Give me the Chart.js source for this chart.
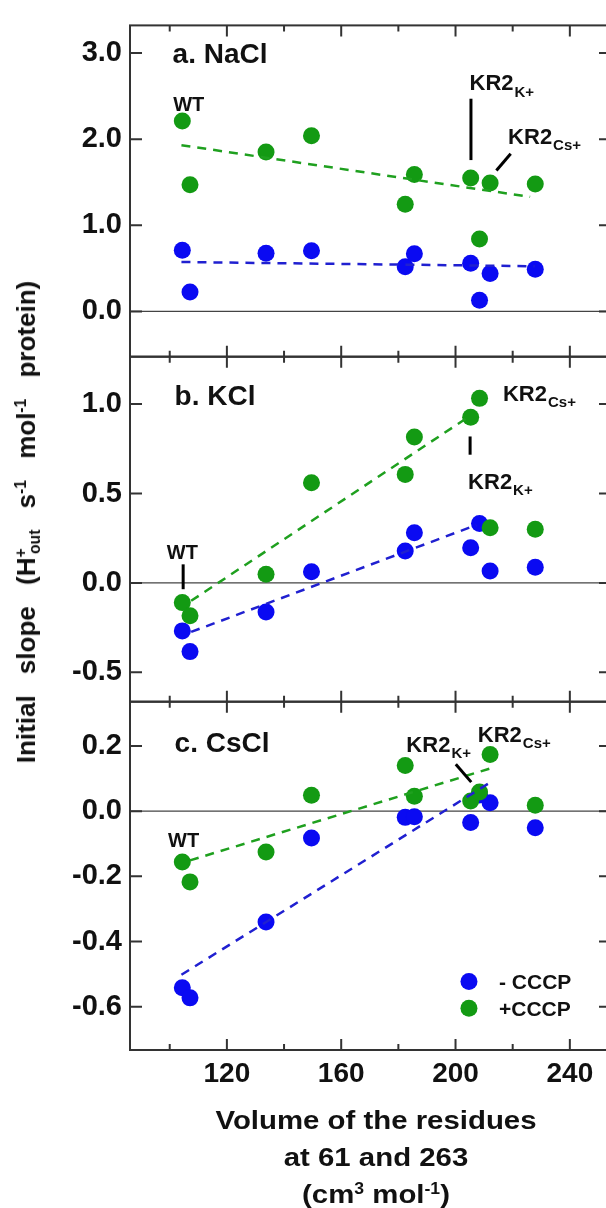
<!DOCTYPE html>
<html><head><meta charset="utf-8">
<script src="https://cdn.jsdelivr.net/npm/chart.js@4.4.1/dist/chart.umd.min.js"></script>
<style>
html,body{margin:0;padding:0;background:#fff;overflow:hidden}
#wrap{position:relative;width:606px;height:1208px;overflow:hidden;background:#fff;font-family:"Liberation Sans",Arial,sans-serif;font-weight:bold;color:#111}
canvas{position:absolute;left:0;top:0;width:620px;height:1208px}
#ytitle{position:absolute;left:28px;top:522px;transform:translate(-50%,-50%) rotate(-90deg);white-space:nowrap;font-size:26px;word-spacing:14px;line-height:30px}
#xtitle{position:absolute;left:376px;top:1102px;transform:translateX(-50%) scaleX(1.13);text-align:center;font-size:26px;line-height:37px;white-space:nowrap}
.sp{font-size:0.6em;position:relative;top:-0.6em}
.sb{font-size:0.6em;position:relative;top:0.35em}
</style></head>
<body>
<div id="wrap">
<canvas id="ca" width="620" height="1208"></canvas>
<canvas id="cb" width="620" height="1208"></canvas>
<canvas id="cc" width="620" height="1208"></canvas>
<div id="ytitle">Initial slope (H<span class="sp">+</span><span class="sb" style="margin-left:-0.35em">out</span> s<span class="sp">-1</span> mol<span class="sp">-1</span> protein)</div>
<div id="xtitle">Volume of the residues<br>at 61 and 263<br>(cm<span class="sp">3</span> mol<span class="sp">-1</span>)</div>
</div>
<script>
// ---- data ----
const volumes = [104.4, 107.1, 133.7, 149.6, 182.4, 185.6, 205.3, 208.4, 212.1, 227.9];

const nacl_minusCCCP = [0.71, 0.225, 0.675, 0.705, 0.52, 0.67, 0.56, 0.13, 0.44, 0.49];
const nacl_plusCCCP  = [2.21, 1.47, 1.85, 2.04, 1.245, 1.59, 1.55, 0.84, 1.49, 1.48];
const kcl_minusCCCP  = [-0.268, -0.384, -0.162, 0.063, 0.179, 0.281, 0.197, 0.333, 0.067, 0.088];
const kcl_plusCCCP   = [-0.11, -0.184, 0.048, 0.56, 0.607, 0.816, 0.927, 1.032, 0.309, 0.30];
const cscl_minusCCCP = [-0.542, -0.573, -0.34, -0.082, -0.019, -0.017, -0.035, 0.05, 0.026, -0.051];
const cscl_plusCCCP  = [-0.156, -0.217, -0.125, 0.049, 0.140, 0.046, 0.031, 0.059, 0.174, 0.018];

// dashed trend lines (end points)
const nacl_fitMinus_x = [104.1, 227.7], nacl_fitMinus_y = [0.574, 0.525];
const nacl_fitPlus_x  = [104.1, 226.1], nacl_fitPlus_y  = [1.93, 1.33];
const kcl_fitMinus_x  = [107.5, 207.3], kcl_fitMinus_y  = [-0.274, 0.324];
const kcl_fitPlus_x   = [107.5, 204.6], kcl_fitPlus_y   = [-0.10, 0.929];
const cscl_fitMinus_x = [104.1, 212.1], cscl_fitMinus_y = [-0.502, 0.088];
const cscl_fitPlus_x  = [107.1, 212.1], cscl_fitPlus_y  = [-0.151, 0.131];

// tick labels
const xMajorTicks = [120, 160, 200, 240];
const xMinorTicks = [100, 140, 180, 220];
const naclTicks = [0.0, 1.0, 2.0, 3.0];
const kclTicks  = [-0.5, 0.0, 0.5, 1.0];
const csclTicks = [-0.6, -0.4, -0.2, 0.0, 0.2];
const seriesNames = ['- CCCP', '+CCCP'];

// ---- styling ----
const BLUE = '#0a0af2', GREEN = '#139a13';
const BLUE_LINE = '#2020d0', GREEN_LINE = '#1fa01f';
const FONT = '"Liberation Sans", Arial, sans-serif';
const AXIS = '#333';

function pts(xs, ys){ return xs.map((x,i)=>({x, y: ys[i]})); }

function drawLabel(ctx, x, y, t, sub, size){
  ctx.font = 'bold ' + size + 'px ' + FONT;
  ctx.textBaseline = 'alphabetic'; ctx.textAlign = 'left';
  const base = y + size*0.358;
  ctx.fillText(t, x, base);
  if (sub){
    const w = ctx.measureText(t).width;
    const s2 = Math.round(size*0.7);
    ctx.font = 'bold ' + s2 + 'px ' + FONT;
    ctx.fillText(sub, x + w + 1, base + size*0.28);
  }
}

const framePlugin = {
  id: 'frame',
  beforeDatasetsDraw(chart){
    const {ctx, chartArea:a} = chart, y = chart.scales.y;
    const y0 = y.getPixelForValue(0);
    ctx.save(); ctx.strokeStyle = '#444'; ctx.lineWidth = 1.3;
    ctx.beginPath(); ctx.moveTo(a.left, y0); ctx.lineTo(a.right, y0); ctx.stroke();
    ctx.restore();
  },
  afterDatasetsDraw(chart, args, opts){
    const {ctx, chartArea:a} = chart, x = chart.scales.x, y = chart.scales.y;
    ctx.save();
    ctx.strokeStyle = AXIS; ctx.lineWidth = 2;
    ctx.strokeRect(a.left, a.top, a.right - a.left, a.bottom - a.top);
    ctx.beginPath();
    xMajorTicks.forEach(v=>{ const p = x.getPixelForValue(v);
      ctx.moveTo(p, a.top); ctx.lineTo(p, a.top + 11); ctx.moveTo(p, a.bottom); ctx.lineTo(p, a.bottom - 11); });
    xMinorTicks.forEach(v=>{ const p = x.getPixelForValue(v);
      ctx.moveTo(p, a.top); ctx.lineTo(p, a.top + 6); ctx.moveTo(p, a.bottom); ctx.lineTo(p, a.bottom - 6); });
    y.ticks.forEach(t=>{ const p = y.getPixelForValue(t.value);
      ctx.moveTo(a.left, p); ctx.lineTo(a.left + 12, p); ctx.moveTo(a.right, p); ctx.lineTo(a.right - 12, p); });
    ctx.stroke();
    // annotation connector lines
    ctx.strokeStyle = '#000'; ctx.lineWidth = 3;
    (opts.lines || []).forEach(l=>{
      ctx.beginPath();
      ctx.moveTo(x.getPixelForValue(l[0]), y.getPixelForValue(l[1]));
      ctx.lineTo(x.getPixelForValue(l[2]), y.getPixelForValue(l[3]));
      ctx.stroke();
    });
    ctx.fillStyle = '#111';
    (opts.labels || []).forEach(l=>{
      drawLabel(ctx, x.getPixelForValue(l.x), y.getPixelForValue(l.y), l.t, l.sub, l.size || 22);
    });
    if (opts.legend){
      const L = opts.legend;
      [BLUE, GREEN].forEach((c,i)=>{
        const cy = y.getPixelForValue(L.y[i]);
        ctx.fillStyle = c; ctx.beginPath();
        ctx.arc(x.getPixelForValue(L.x), cy, 8.5, 0, Math.PI*2); ctx.fill();
        ctx.fillStyle = '#111';
        drawLabel(ctx, x.getPixelForValue(L.tx), cy, seriesNames[i], null, 21);
      });
    }
    ctx.restore();
  }
};

function makeChart(id, cfg){
  return new Chart(document.getElementById(id), {
    type: 'scatter',
    data: { datasets: [
      { data: pts(cfg.fitPx, cfg.fitPy), showLine: true, borderColor: GREEN_LINE, borderWidth: 2.5, borderDash: [9,7], pointRadius: 0, order: 0 },
      { data: pts(cfg.fitMx, cfg.fitMy), showLine: true, borderColor: BLUE_LINE, borderWidth: 2.5, borderDash: [9,7], pointRadius: 0, order: 0 },
      { label: seriesNames[1], data: pts(volumes, cfg.plus), backgroundColor: GREEN, pointRadius: 8.5, pointBorderWidth: 0, order: 1 },
      { label: seriesNames[0], data: pts(volumes, cfg.minus), backgroundColor: BLUE, pointRadius: 8.5, pointBorderWidth: 0, order: 2 }
    ]},
    options: {
      responsive: false, animation: false, devicePixelRatio: 1,
      layout: { padding: { left: 0, right: 9, top: cfg.top, bottom: cfg.bottom } },
      plugins: { legend: { display: false }, tooltip: { enabled: false }, frame: cfg.frame },
      scales: {
        x: { type: 'linear', min: 86.1, max: 254.4, display: cfg.showX,
             grid: { display: false, drawTicks: false }, border: { display: false },
             ticks: { display: cfg.showX, padding: 7, color: '#111', font: { family: FONT, size: 28, weight: 'bold' }, callback: v => String(v) },
             afterBuildTicks: s => { s.ticks = xMajorTicks.map(v => ({ value: v })); },
             afterFit: s => { s.height = cfg.xh; } },
        y: { type: 'linear', min: cfg.ymin, max: cfg.ymax,
             grid: { display: false, drawTicks: false }, border: { display: false },
             ticks: { padding: 8, color: '#111', font: { family: FONT, size: 29, weight: 'bold' }, callback: v => v.toFixed(1) },
             afterBuildTicks: s => { s.ticks = cfg.yticks.map(v => ({ value: v })); },
             afterFit: s => { s.width = 130; } }
      }
    },
    plugins: [framePlugin]
  });
}

makeChart('ca', {
  top: 14, bottom: 1208 - 356.7, xh: 0, showX: false, ymin: -0.525, ymax: 3.32, yticks: naclTicks,
  plus: nacl_plusCCCP, minus: nacl_minusCCCP,
  fitPx: nacl_fitPlus_x, fitPy: nacl_fitPlus_y, fitMx: nacl_fitMinus_x, fitMy: nacl_fitMinus_y,
  frame: {
    labels: [ {t:'a. NaCl', x:101.0, y:3.0, size:28}, {t:'WT', x:101.2, y:2.41, size:20},
              {t:'KR2', sub:'K+', x:204.9, y:2.656}, {t:'KR2', sub:'Cs+', x:218.4, y:2.04} ],
    lines: [ [205.4, 2.469, 205.4, 1.757], [214.3, 1.637, 219.3, 1.831] ]
  }
});
makeChart('cb', {
  top: 356.7, bottom: 1208 - 701.7, xh: 0, showX: false, ymin: -0.664, ymax: 1.265, yticks: kclTicks,
  plus: kcl_plusCCCP, minus: kcl_minusCCCP,
  fitPx: kcl_fitPlus_x, fitPy: kcl_fitPlus_y, fitMx: kcl_fitMinus_x, fitMy: kcl_fitMinus_y,
  frame: {
    labels: [ {t:'b. KCl', x:101.7, y:1.052, size:28}, {t:'WT', x:99.0, y:0.175, size:20},
              {t:'KR2', sub:'Cs+', x:216.6, y:1.061}, {t:'KR2', sub:'K+', x:204.4, y:0.569} ],
    lines: [ [205.1, 0.819, 205.1, 0.717], [104.7, 0.104, 104.7, -0.035] ]
  }
});
makeChart('cc', {
  top: 701.7, bottom: 1208 - 1050 - 40, xh: 40, showX: true, ymin: -0.733, ymax: 0.336, yticks: csclTicks,
  plus: cscl_plusCCCP, minus: cscl_minusCCCP,
  fitPx: cscl_fitPlus_x, fitPy: cscl_fitPlus_y, fitMx: cscl_fitMinus_x, fitMy: cscl_fitMinus_y,
  frame: {
    labels: [ {t:'c. CsCl', x:101.7, y:0.212, size:28}, {t:'WT', x:99.4, y:-0.087, size:20},
              {t:'KR2', sub:'K+', x:182.8, y:0.207}, {t:'KR2', sub:'Cs+', x:207.8, y:0.236} ],
    lines: [ [200.1, 0.1437, 205.5, 0.0892] ],
    legend: { x: 204.7, tx: 215.2, y: [-0.523, -0.605] }
  }
});
</script>
</body></html>
